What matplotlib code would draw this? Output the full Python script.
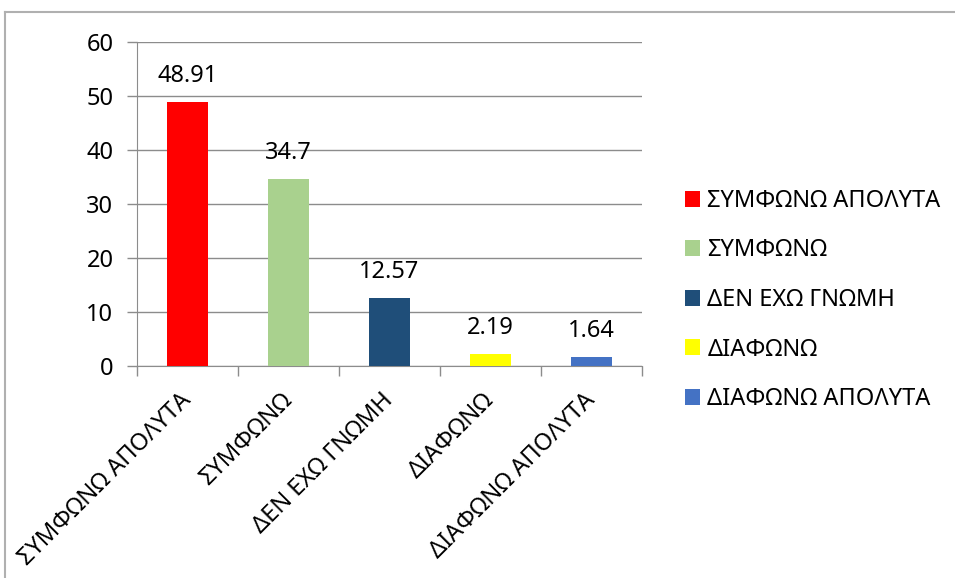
import matplotlib
matplotlib.use('Agg')  # noqa
import matplotlib.pyplot as plt
from matplotlib.lines import Line2D
from matplotlib.patches import Patch
import numpy as np

categories = ['ΣΥΜΦΩΝΩ ΑΠΟΛΥΤΑ', 'ΣΥΜΦΩΝΩ', 'ΔΕΝ ΕΧΩ ΓΝΩΜΗ',
              'ΔΙΑΦΩΝΩ', 'ΔΙΑΦΩΝΩ ΑΠΟΛΥΤΑ']
values = [48.91, 34.7, 12.57, 2.19, 1.64]
value_labels = ['48.91', '34.7', '12.57', '2.19', '1.64']
colors = ['#FF0000', '#A9D18E', '#1F4E79', '#FFFF00', '#4472C4']
yticks = [0, 10, 20, 30, 40, 50, 60]

plt.rcParams['font.family'] = ['Noto Sans', 'DejaVu Sans']

W, H = 955, 578
fig = plt.figure(figsize=(W / 100, H / 100), dpi=100)
ax = fig.add_axes([137 / W, 1 - 366 / H, (642 - 137) / W, (366 - 42) / H])

x = np.arange(len(categories))
ax.bar(x, values, width=0.41, color=colors, zorder=3)
for xi, v, lab in zip(x, values, value_labels):
    ax.annotate(lab, (xi, v), xytext=(0, 10), textcoords='offset points',
                ha='center', va='bottom', fontsize=17, color='black')

ax.set_xlim(-0.5, len(categories) - 0.5)
ax.set_ylim(0, 60)
ax.set_yticks(yticks)
ax.yaxis.grid(True, color='#8c8c8c', linewidth=1, zorder=0)
ax.tick_params(axis='y', length=7, width=1, color='#8c8c8c', pad=10,
               labelsize=17)

# category boundaries get the visible ticks, centres get the labels
ax.set_xticks(np.arange(len(categories) + 1) - 0.5, minor=True)
ax.tick_params(axis='x', which='minor', length=7, width=1, color='#8c8c8c')
ax.set_xticks(x)
ax.set_xticklabels(categories, rotation=45, ha='right', va='center',
                   rotation_mode='anchor', fontsize=17)
ax.tick_params(axis='x', which='major', length=0, pad=22)

for s in ['top', 'right']:
    ax.spines[s].set_visible(False)
for s in ['left', 'bottom']:
    ax.spines[s].set_color('#8c8c8c')

handles = [Patch(facecolor=c, edgecolor='none') for c in colors]
fig.legend(handles, categories, loc='center left',
           bbox_to_anchor=(685 / W, 1 - 300 / H), frameon=False,
           borderpad=0, borderaxespad=0, handlelength=0.65,
           handleheight=0.65, handletextpad=0.3, labelspacing=1.08,
           fontsize=17)

# chart frame (only top and left edges are visible in the crop)
fig.add_artist(Line2D([5 / W, 5 / W], [0, 1 - 12 / H], transform=fig.transFigure,
                      color='#b0b0b0', linewidth=1.5))
fig.add_artist(Line2D([5 / W, 1], [1 - 12 / H, 1 - 12 / H], transform=fig.transFigure,
                      color='#b0b0b0', linewidth=1.5))

fig.savefig('out.png', dpi=100)
